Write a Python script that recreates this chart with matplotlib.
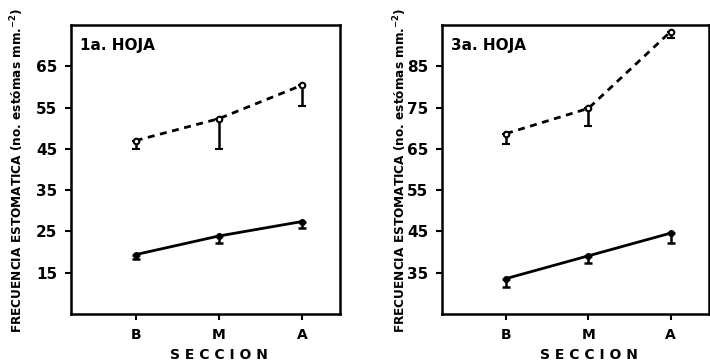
#!/usr/bin/env python3
import numpy as np
import matplotlib
matplotlib.use('Agg')
import matplotlib.pyplot as plt

# secciones de la hoja
secciones = ['B', 'M', 'A']

# 1a. hoja
hoja1_sup = [47.0, 52.3, 60.4]      # linea discontinua
hoja1_sup_err = [2.0, 7.3, 5.0]     # solo hacia abajo
hoja1_inf = [19.4, 23.9, 27.4]      # linea continua
hoja1_inf_err = [1.0, 1.8, 1.6]
hoja1_ticks = [15, 25, 35, 45, 55, 65]

# 3a. hoja
hoja3_sup = [68.7, 74.8, 93.4]
hoja3_sup_err = [2.5, 4.2, 1.5]
hoja3_inf = [33.6, 39.1, 44.6]
hoja3_inf_err = [2.0, 1.7, 2.3]
hoja3_ticks = [35, 45, 55, 65, 75, 85]

plt.rcParams['font.family'] = 'DejaVu Sans'
plt.rcParams['font.weight'] = 'bold'

ylabel = 'FRECUENCIA ESTOMATICA (no. estómas mm.$^{\\mathbf{-2}}$)'


def panel(ax, sup, sup_err, inf, inf_err, ticks, ylim, titulo):
    x = np.arange(len(secciones))
    ax.errorbar(x, sup, yerr=[sup_err, np.zeros(3)], color='k', ls=(0, (2.5, 2)), lw=2,
                marker='o', ms=4, mfc='white', mec='k', mew=1.5,
                ecolor='k', elinewidth=1.8, capsize=3, capthick=1.8)
    ax.errorbar(x, inf, yerr=[inf_err, np.zeros(3)], color='k', ls='-', lw=2,
                marker='o', ms=4, mfc='k', mec='k',
                ecolor='k', elinewidth=1.8, capsize=3, capthick=1.8)
    ax.set_xlim(-0.78, 2.46)
    ax.set_ylim(*ylim)
    ax.set_xticks(x)
    ax.set_xticklabels(secciones, fontsize=10, fontweight='bold')
    ax.set_yticks(ticks)
    ax.set_yticklabels([str(t) for t in ticks], fontsize=11, fontweight='bold')
    ax.tick_params(axis='both', direction='out', length=4, width=1.5, pad=6)
    for s in ax.spines.values():
        s.set_linewidth(1.8)
    ax.text(0.035, 0.955, titulo, transform=ax.transAxes, fontsize=11,
            fontweight='bold', ha='left', va='top')
    ax.text(0.55, -0.14, 'S E C C I O N', transform=ax.transAxes, fontsize=10,
            fontweight='bold', ha='center', va='center')


fig = plt.figure(figsize=(7.1, 3.61), dpi=100)
ax1 = fig.add_axes([0.100, 0.130, 0.379, 0.801])
ax2 = fig.add_axes([0.6225, 0.130, 0.3755, 0.801])

panel(ax1, hoja1_sup, hoja1_sup_err, hoja1_inf, hoja1_inf_err, hoja1_ticks, (5, 75), '1a. HOJA')
panel(ax2, hoja3_sup, hoja3_sup_err, hoja3_inf, hoja3_inf_err, hoja3_ticks, (25, 95), '3a. HOJA')

fig.text(17 / 710, 1 - 170 / 361, ylabel, rotation=90, fontsize=8.7, fontweight='bold',
         ha='center', va='center')
fig.text(400 / 710, 1 - 170 / 361, ylabel, rotation=90, fontsize=8.7, fontweight='bold',
         ha='center', va='center')

plt.savefig('out.png', dpi=100)
